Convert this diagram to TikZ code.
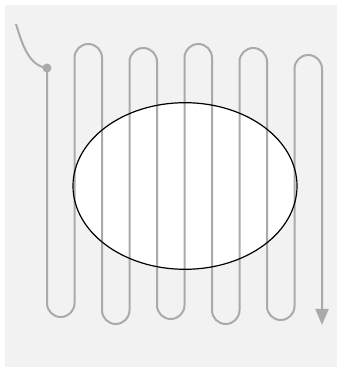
\documentclass[tikz,border=0pt]{standalone}
\usetikzlibrary{arrows.meta}
\definecolor{bgc}{HTML}{F2F2F2}
\definecolor{serpc}{HTML}{AAAAAA}
\tikzset{
  serp/.style={draw=serpc, line width=2pt, line join=round},
  blob/.style={draw=black, line width=1.2pt},
}
\begin{document}
\begin{tikzpicture}[x=1pt,y=1pt]
\useasboundingbox (0,0) rectangle (337,367);
\fill[bgc] (5,0) rectangle (337,362);
\coordinate (ec) at (185,181);
\fill[white] (ec) ellipse [x radius=112, y radius=83.3];
\coordinate (start) at (16,343);
\coordinate (knot) at (47,299);
\draw[serp, -{Triangle[length=16pt,width=13pt]}]
  (start) .. controls (22,323) and (29,301) .. (knot)
  -- (47,63.75) arc[start angle=180,end angle=360,radius=13.75]
  -- (74.5,309.25) arc[start angle=180,end angle=0,radius=13.75]
  -- (102,56.75) arc[start angle=180,end angle=360,radius=13.75]
  -- (129.5,305.25) arc[start angle=180,end angle=0,radius=13.75]
  -- (157,61.75) arc[start angle=180,end angle=360,radius=13.75]
  -- (184.5,309.25) arc[start angle=180,end angle=0,radius=13.75]
  -- (212,56.75) arc[start angle=180,end angle=360,radius=13.75]
  -- (239.5,305.25) arc[start angle=180,end angle=0,radius=13.75]
  -- (267,60.75) arc[start angle=180,end angle=360,radius=13.75]
  -- (294.5,298.25) arc[start angle=180,end angle=0,radius=13.75]
  -- (322,42);
\fill[serpc] (knot) circle[radius=4.5];
\draw[blob] (ec) ellipse [x radius=112, y radius=83.3];
\end{tikzpicture}
\end{document}
